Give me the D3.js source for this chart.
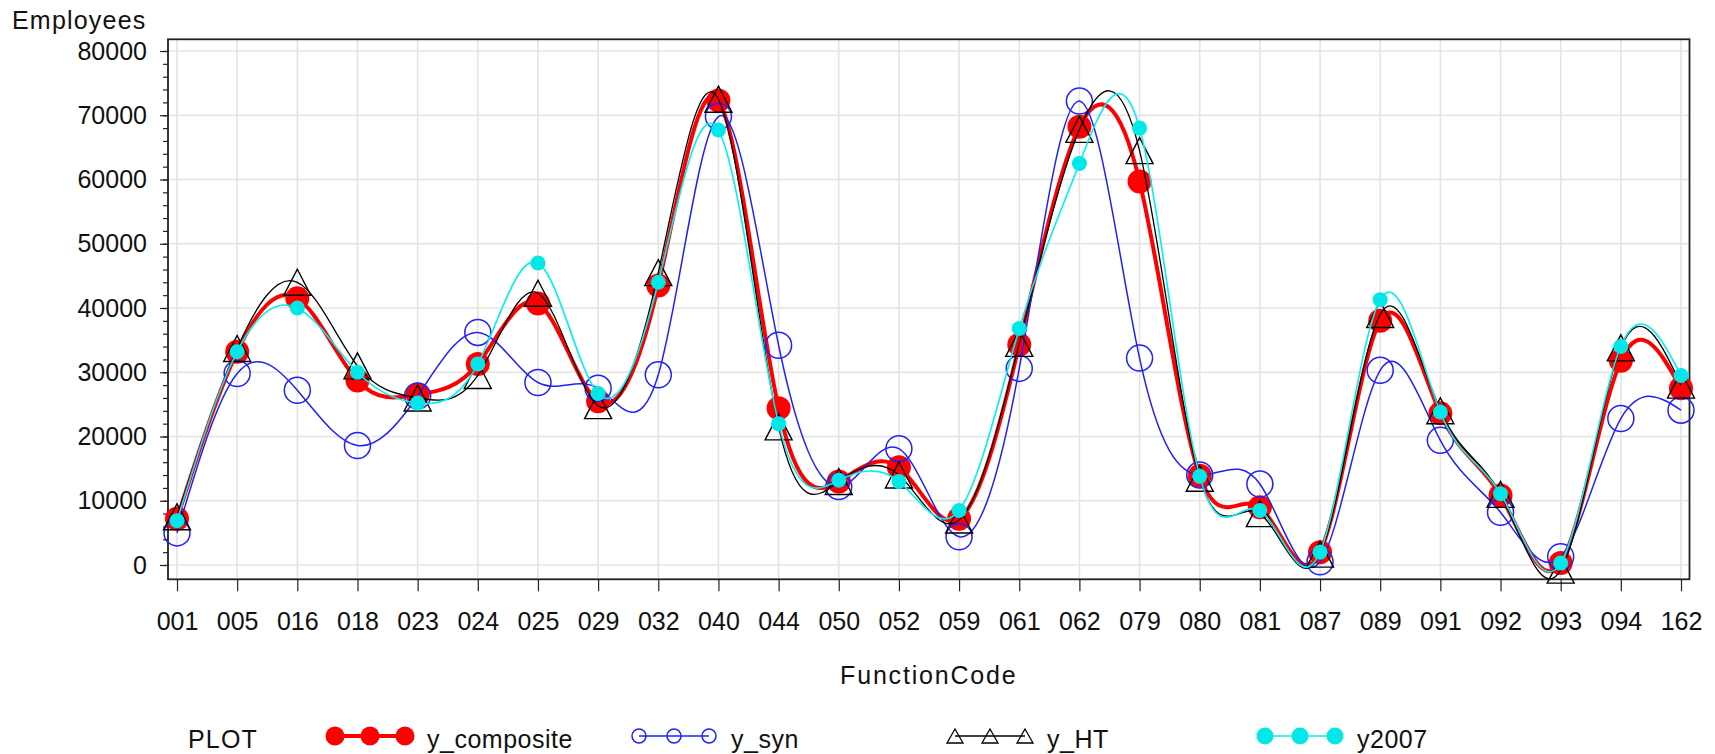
<!DOCTYPE html>
<html>
<head>
<meta charset="utf-8">
<script src="https://cdn.jsdelivr.net/npm/d3@7"></script>
<style>
  html, body { margin: 0; padding: 0; background: #fff; }
  svg text { font-family: "Liberation Sans", Arial, sans-serif; fill: #111; }
</style>
</head>
<body>
<svg id="chart" width="1715" height="754"></svg>
<script>
const categories = ["001","005","016","018","023","024","025","029","032","040","044","050","052","059","061","062","079","080","081","087","089","091","092","093","094","162"];

const yComposite = [7200,33200,41500,28700,26500,31300,40700,25500,43500,72300,24400,13000,15200,7200,34300,68200,59700,13900,9000,2000,38000,23600,10800,300,31800,27500];
const ySyn       = [5000,29800,27200,18600,26300,36200,28400,27500,29600,69800,34200,12200,18100,4400,30600,72200,32200,14000,12600,500,30300,19400,8200,1300,22800,24100];
const yHT        = [7500,33700,44000,31000,26000,29500,42300,24800,45500,72500,21500,13000,14000,7000,34500,67800,64500,13500,8000,1700,39000,24000,11000,-800,33800,28000];
const y2007      = [6900,33200,40000,30000,25200,31300,47000,26700,44000,67700,22000,13200,13000,8500,36800,62500,68000,13800,8500,2000,41300,23800,11100,300,34000,29500];

const yTicks = [0,10000,20000,30000,40000,50000,60000,70000,80000];
const yMinorTicks = d3.range(0, 80001, 2000);

const seriesNames = ["y_composite","y_syn","y_HT","y2007"];

const svg = d3.select("#chart");
svg.append("rect").attr("width",1715).attr("height",754).attr("fill","#fff");

const frame = {left:168, right:1689.5, top:39.3, bottom:579.3};

const x = d3.scalePoint().domain(categories).range([177, 1681]);
const y = d3.scaleLinear().domain([0, 80000]).range([565, 51]);

// grid
const grid = svg.append("g");
grid.selectAll("line.h").data(yTicks).join("line")
  .attr("x1", frame.left).attr("x2", frame.right)
  .attr("y1", d => y(d)).attr("y2", d => y(d))
  .attr("stroke", "#e4e4e4").attr("stroke-width", 1.6);
grid.selectAll("line.v").data(categories).join("line")
  .attr("x1", d => x(d)).attr("x2", d => x(d))
  .attr("y1", frame.top).attr("y2", frame.bottom)
  .attr("stroke", "#e4e4e4").attr("stroke-width", 1.6);

// axes
const yAxisMinor = d3.axisLeft(y).tickValues(yMinorTicks).tickSize(5).tickFormat("");
const gyMinor = svg.append("g").attr("transform", `translate(${frame.left},0)`).call(yAxisMinor);
gyMinor.select(".domain").remove();
gyMinor.selectAll("line").attr("stroke", "#222").attr("stroke-width", 1.2);

const yAxis = d3.axisLeft(y).tickValues(yTicks).tickSize(8).tickPadding(13).tickFormat(d3.format("d"));
const gy = svg.append("g").attr("transform", `translate(${frame.left},0)`).call(yAxis);
gy.select(".domain").remove();
gy.selectAll("line").attr("stroke", "#222").attr("stroke-width", 1.2);
gy.selectAll("text").attr("font-size", 25).attr("font-family", null).style("fill", "#111");

const xAxis = d3.axisBottom(x).tickSize(12).tickPadding(20.5);
const gx = svg.append("g").attr("transform", `translate(0,${frame.bottom})`).call(xAxis);
gx.select(".domain").remove();
gx.selectAll("line").attr("stroke", "#222").attr("stroke-width", 1.2);
gx.selectAll("text").attr("font-size", 25).attr("font-family", null).style("fill", "#111");

// frame
svg.append("rect")
  .attr("x", frame.left).attr("y", frame.top)
  .attr("width", frame.right - frame.left).attr("height", frame.bottom - frame.top)
  .attr("fill", "none").attr("stroke", "#222").attr("stroke-width", 1.8);

// titles
svg.append("text").attr("x", 12).attr("y", 29).attr("font-size", 25)
  .attr("letter-spacing", 1.2).text("Employees");
svg.append("text").attr("x", (frame.left + frame.right) / 2).attr("y", 684)
  .attr("text-anchor", "middle").attr("font-size", 25).attr("letter-spacing", 1.8)
  .text("FunctionCode");

// series
const line = d3.line().x((d, i) => x(categories[i])).y(d => y(d)).curve(d3.curveNatural);
const plot = svg.append("g");

function triPath(cx, cy, w, h) {
  return `M${cx},${cy - h/2}L${cx + w/2},${cy + h/2}L${cx - w/2},${cy + h/2}Z`;
}

// y_composite
plot.append("path").datum(yComposite).attr("d", line)
  .attr("fill", "none").attr("stroke", "#ff0000").attr("stroke-width", 4).attr("stroke-linejoin","round");
plot.append("g").selectAll("circle").data(yComposite).join("circle")
  .attr("cx", (d, i) => x(categories[i])).attr("cy", d => y(d)).attr("r", 12)
  .attr("fill", "#ff0000");

// y_syn
plot.append("path").datum(ySyn).attr("d", line)
  .attr("fill", "none").attr("stroke", "#2020ff").attr("stroke-width", 1.5);
plot.append("g").selectAll("circle").data(ySyn).join("circle")
  .attr("cx", (d, i) => x(categories[i])).attr("cy", d => y(d)).attr("r", 13)
  .attr("fill", "none").attr("stroke", "#2020ff").attr("stroke-width", 1.5);

// y_HT
plot.append("path").datum(yHT).attr("d", line)
  .attr("fill", "none").attr("stroke", "#000").attr("stroke-width", 1.3);
plot.append("g").selectAll("path").data(yHT).join("path")
  .attr("d", (d, i) => triPath(x(categories[i]), y(d), 27, 26))
  .attr("fill", "none").attr("stroke", "#000").attr("stroke-width", 1.4);

// y2007
plot.append("path").datum(y2007).attr("d", line)
  .attr("fill", "none").attr("stroke", "#00f0f0").attr("stroke-width", 1.6);
plot.append("g").selectAll("circle").data(y2007).join("circle")
  .attr("cx", (d, i) => x(categories[i])).attr("cy", d => y(d)).attr("r", 7.5)
  .attr("fill", "#00e8e8");

// legend
const legY = 736;
const legCols = [335, 639, 955, 1265];
const leg = svg.append("g");
leg.append("text").attr("x", 188).attr("y", 748).attr("font-size", 25).attr("letter-spacing", 1.2).text("PLOT");

const styles = [
  {stroke:"#ff0000", sw:4},
  {stroke:"#2020ff", sw:1.5},
  {stroke:"#000", sw:1.3},
  {stroke:"#00f0f0", sw:1.6}
];
seriesNames.forEach((name, k) => {
  const x0 = legCols[k];
  const g = leg.append("g");
  g.append("line").attr("x1", x0).attr("x2", x0 + 70).attr("y1", legY).attr("y2", legY)
    .attr("stroke", styles[k].stroke).attr("stroke-width", styles[k].sw);
  [0, 35, 70].forEach(dx => {
    const cx = x0 + dx;
    if (k === 0) g.append("circle").attr("cx", cx).attr("cy", legY).attr("r", 9.5).attr("fill", "#ff0000");
    if (k === 1) g.append("circle").attr("cx", cx).attr("cy", legY).attr("r", 7).attr("fill", "none").attr("stroke", "#2020ff").attr("stroke-width", 1.5);
    if (k === 2) g.append("path").attr("d", triPath(cx, legY, 16, 14)).attr("fill", "none").attr("stroke", "#000").attr("stroke-width", 1.3);
    if (k === 3) g.append("circle").attr("cx", cx).attr("cy", legY).attr("r", 8.5).attr("fill", "#00e8e8");
  });
  g.append("text").attr("x", x0 + 92).attr("y", 748).attr("font-size", 25).attr("letter-spacing", 0.5).text(name);
});
</script>
</body>
</html>
